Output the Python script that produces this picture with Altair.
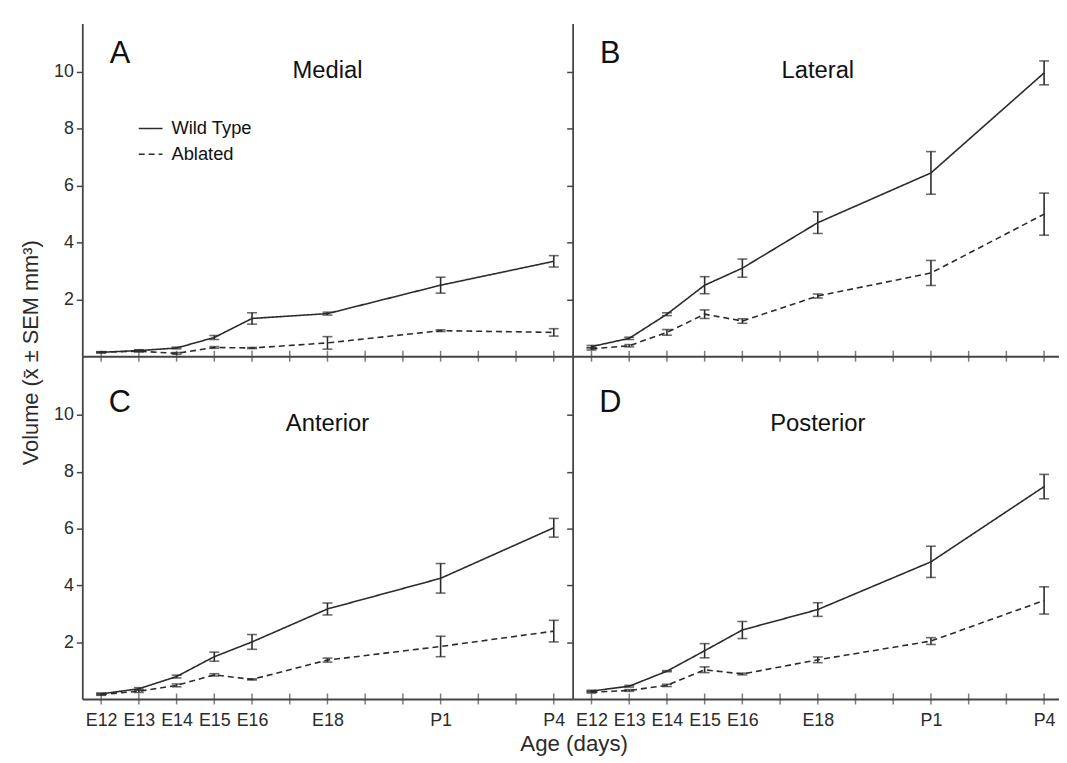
import altair as alt
import pandas as pd

# ---------------- data ----------------
ages = ["E12", "E13", "E14", "E15", "E16", "E18", "P1", "P4"]
age_pos = [0, 1, 2, 3, 4, 6, 9, 12]          # position on the day-tick axis
tick_pos = list(range(0, 13))               # minor tick marks along x
series_names = ["Wild Type", "Ablated"]

medial_wt = [0.14, 0.20, 0.29, 0.66, 1.33, 1.50, 2.50, 3.34]
medial_wt_err = [0.02, 0.03, 0.03, 0.07, 0.20, 0.05, 0.28, 0.20]
medial_ab = [0.14, 0.18, 0.10, 0.31, 0.29, 0.47, 0.90, 0.84]
medial_ab_err = [0.02, 0.03, 0.03, 0.03, 0.02, 0.22, 0.03, 0.13]

lateral_wt = [0.34, 0.63, 1.48, 2.50, 3.10, 4.70, 6.45, 9.97]
lateral_wt_err = [0.04, 0.04, 0.05, 0.30, 0.32, 0.38, 0.75, 0.42]
lateral_ab = [0.26, 0.37, 0.84, 1.48, 1.24, 2.12, 2.93, 5.00]
lateral_ab_err = [0.04, 0.04, 0.10, 0.15, 0.08, 0.07, 0.44, 0.74]

anterior_wt = [0.18, 0.36, 0.79, 1.49, 2.01, 3.17, 4.25, 6.03]
anterior_wt_err = [0.03, 0.04, 0.05, 0.16, 0.26, 0.21, 0.52, 0.33]
anterior_ab = [0.16, 0.27, 0.48, 0.85, 0.69, 1.37, 1.85, 2.39]
anterior_ab_err = [0.03, 0.04, 0.05, 0.04, 0.02, 0.07, 0.36, 0.38]

posterior_wt = [0.28, 0.45, 0.98, 1.70, 2.43, 3.15, 4.83, 7.48]
posterior_wt_err = [0.03, 0.03, 0.02, 0.25, 0.30, 0.24, 0.55, 0.43]
posterior_ab = [0.24, 0.30, 0.48, 1.03, 0.88, 1.38, 2.04, 3.47]
posterior_ab_err = [0.03, 0.03, 0.04, 0.10, 0.03, 0.10, 0.12, 0.48]

y_ticks = [2, 4, 6, 8, 10]
y_title = "Volume (x\u0304 \u00b1 SEM mm\u00b3)"
x_title = "Age (days)"

# ---------------- style ----------------
FONT = "Liberation Sans"
INK = "#2b2b2b"
AXIS = "#444444"
PX_PER_DAY = 495 / 13.0

label_expr = "".join(f"datum.value == {p} ? '{a}' : " for p, a in zip(age_pos, ages)) + "''"


def make_df(wt, wt_err, ab, ab_err):
    rows = []
    for name, vals, errs in ((series_names[0], wt, wt_err), (series_names[1], ab, ab_err)):
        for p, v, e in zip(age_pos, vals, errs):
            rows.append({"pos": p, "series": name, "value": v, "lo": v - e, "hi": v + e})
    return pd.DataFrame(rows)


def panel(df, letter, name, left, bottom, height, ymax, xmax, width,
          title_offset, letter_offset, legend=False, ytitle=False, xtitle=False):
    x_axis = alt.Axis(values=age_pos, labelExpr=label_expr, labels=bottom, ticks=False,
                      grid=False, domainColor=AXIS, domainWidth=1.8, labelFontSize=18,
                      labelFont=FONT, labelColor=INK, labelPadding=13, labelFlush=False,
                      title=x_title if xtitle else None, titleFont=FONT, titleFontSize=22.5,
                      titleFontWeight="normal", titleColor=INK, titleX=width + 1,
                      titleY=34, titleBaseline="top", titleAlign="center")
    y_axis = alt.Axis(values=y_ticks, labels=left, ticks=True, tickSize=6, tickWidth=1.5,
                      tickColor=AXIS, grid=False, domainColor=AXIS, domainWidth=1.8,
                      labelFontSize=18, labelFont=FONT, labelColor=INK, labelPadding=3,
                      title=y_title if ytitle else None, titleFont=FONT, titleFontSize=22,
                      titleFontWeight="normal", titleColor=INK, titleX=-40, titleY=-4,
                      titleAngle=270, titleBaseline="bottom", titleAlign="center")
    X = alt.X("pos:Q", scale=alt.Scale(domain=[-0.5, xmax], nice=False, zero=False), axis=x_axis)

    def Y(field):
        return alt.Y(f"{field}:Q", scale=alt.Scale(domain=[0, ymax], nice=False, zero=False),
                     axis=y_axis)

    dash = alt.StrokeDash("series:N", scale=alt.Scale(domain=series_names, range=[[1, 0], [6, 4]]),
                          legend=None)

    lines = alt.Chart(df).mark_line(color=INK, strokeWidth=1.6).encode(
        x=X, y=Y("value"), strokeDash=dash)
    bars = alt.Chart(df).mark_rule(color=INK, strokeWidth=1.6).encode(
        x=X, y=Y("lo"), y2="hi:Q")
    cap_lo = alt.Chart(df).mark_tick(color=INK, orient="horizontal", size=10, thickness=1.6).encode(
        x=X, y=Y("lo"))
    cap_hi = alt.Chart(df).mark_tick(color=INK, orient="horizontal", size=10, thickness=1.6).encode(
        x=X, y=Y("hi"))
    xt = alt.Chart(pd.DataFrame({"pos": tick_pos, "value": [0] * len(tick_pos)})).mark_tick(
        color=AXIS, orient="vertical", size=11, thickness=1.5).encode(x=X, y=Y("value"))
    let = alt.Chart(pd.DataFrame({"t": [letter]})).mark_text(
        font=FONT, fontSize=31, color="#111111", align="center", baseline="middle").encode(
        text="t:N", x=alt.value(38), y=alt.value(letter_offset))
    ttl = alt.Chart(pd.DataFrame({"t": [name]})).mark_text(
        font=FONT, fontSize=24, color="#111111", align="center", baseline="middle").encode(
        text="t:N", x=alt.value(PX_PER_DAY * 6.5), y=alt.value(title_offset))
    layers = [xt, lines, bars, cap_lo, cap_hi, let, ttl]
    if legend:
        for i, nm in enumerate(series_names):
            ld = pd.DataFrame({"t": [nm]})
            r = alt.Chart(ld).mark_rule(color=INK, strokeWidth=1.6,
                                         strokeDash=[1, 0] if i == 0 else [6, 4]).encode(
                x=alt.value(57), x2=alt.value(81), y=alt.value(106 + 26 * i))
            t = alt.Chart(ld).mark_text(font=FONT, fontSize=18.5, color="#111111", align="left",
                                        baseline="middle").encode(
                text="t:N", x=alt.value(90), y=alt.value(106 + 26 * i))
            layers += [r, t]
    return alt.layer(*layers).properties(width=width, height=height)


TOP_H, BOT_H = 336, 346
TOP_MAX, BOT_MAX = 11.71, 12.07
W_L = 495
W_R = 491
XMAX_L = 12.5
XMAX_R = -0.5 + W_R / PX_PER_DAY

pA = panel(make_df(medial_wt, medial_wt_err, medial_ab, medial_ab_err), "A", "Medial",
           True, False, TOP_H, TOP_MAX, XMAX_L, W_L, 48, 30.5, legend=True)
pB = panel(make_df(lateral_wt, lateral_wt_err, lateral_ab, lateral_ab_err), "B", "Lateral",
           False, False, TOP_H, TOP_MAX, XMAX_R, W_R, 48, 30.5)
pC = panel(make_df(anterior_wt, anterior_wt_err, anterior_ab, anterior_ab_err), "C", "Anterior",
           True, True, BOT_H, BOT_MAX, XMAX_L, W_L, 68, 47.5, ytitle=True, xtitle=True)
pD = panel(make_df(posterior_wt, posterior_wt_err, posterior_ab, posterior_ab_err), "D", "Posterior",
           False, True, BOT_H, BOT_MAX, XMAX_R, W_R, 68, 47.5)

chart = alt.concat(
    pA, pB, pC, pD, columns=2, spacing=0, bounds="flush",
).properties(
    padding={"left": 11, "top": 12, "right": 0, "bottom": 0},
    background="white",
).configure_view(stroke="transparent", strokeWidth=0)

chart.save("out.html", embed_options={"renderer": "svg", "actions": False})
